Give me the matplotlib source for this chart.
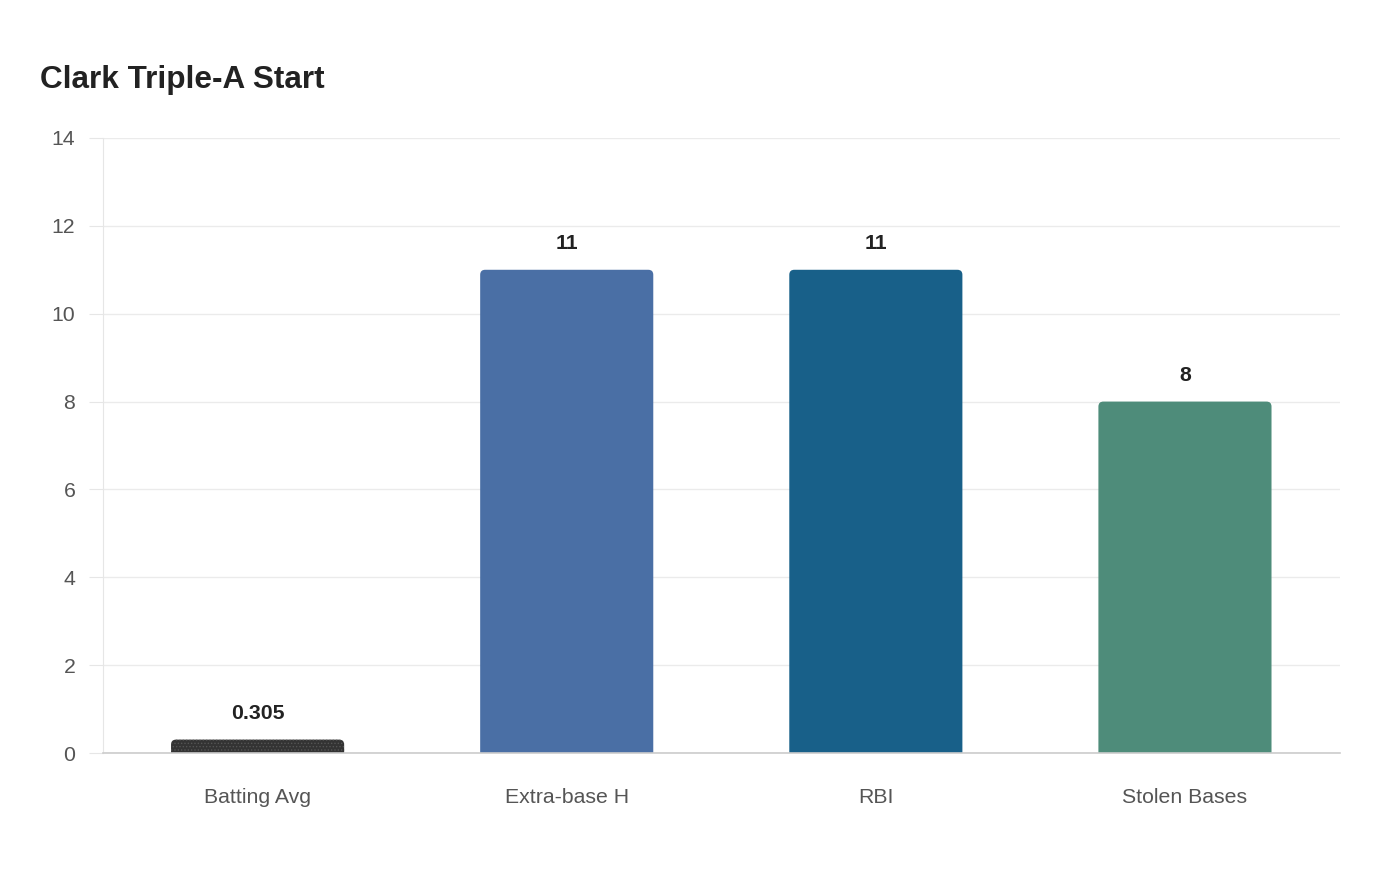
import matplotlib.pyplot as plt
from matplotlib.patches import FancyBboxPatch

plt.rcParams['font.family'] = ['Liberation Sans', 'DejaVu Sans']
plt.rcParams['hatch.linewidth'] = 0.6

categories = ['Batting Avg', 'Extra-base H', 'RBI', 'Stolen Bases']
values = [0.305, 11, 11, 8]
labels = ['0.305', '11', '11', '8']
colors = ['#333333', '#4a6fa5', '#186089', '#4e8c7a']

fig = plt.figure(figsize=(14, 8.8), dpi=100)
ax = fig.add_axes([0.0736, 0.1443, 0.8832, 0.6989])

ax.set_xlim(-0.5, 3.5)
ax.set_ylim(0, 14)

x = range(len(categories))
bars = ax.bar(x, values, width=0.56, color=colors, zorder=3)

# swap plain bars for ones with rounded corners (bottom hidden below axis)
px_x = ax.get_position().width * 1400 / 4.0
px_y = ax.get_position().height * 880 / 14.0
aspect = px_x / px_y
for i, b in enumerate(bars):
    b.set_visible(False)
    r = 5.0 / px_x
    p = FancyBboxPatch((b.get_x(), -0.3), b.get_width(), b.get_height() + 0.3,
                       boxstyle=f'round,pad=0,rounding_size={r}',
                       mutation_aspect=aspect, facecolor=colors[i],
                       edgecolor='none', zorder=3)
    if i == 0:
        p.set_hatch('.....')
        p.set_edgecolor('#555555')
        p.set_linewidth(0)
    ax.add_patch(p)

for xi, v, lab in zip(x, values, labels):
    ax.annotate(lab, (xi, v), xytext=(0, 12), textcoords='offset points',
                ha='center', va='bottom', fontsize=15.3, fontweight='bold', color='#222222')

ax.set_yticks(range(0, 15, 2))
ax.set_xticks(list(x))
ax.set_xticklabels(categories)
ax.grid(axis='y', color='#ebebeb', linewidth=1, zorder=0)
ax.tick_params(axis='y', length=10, color='#e6e6e6', labelcolor='#555555', labelsize=15.3, pad=10)
ax.tick_params(axis='x', length=0, labelcolor='#555555', labelsize=15.3, pad=25)

for s in ['top', 'right']:
    ax.spines[s].set_visible(False)
ax.spines['left'].set_color('#e6e6e6')
ax.spines['bottom'].set_color('#cccccc')
ax.spines['bottom'].set_linewidth(1.2)
ax.spines['bottom'].set_zorder(4)

fig.text(0.0286, 0.909, 'Clark Triple-A Start', fontsize=22.7, fontweight='bold',
         color='#222222', ha='left', va='center')

fig.savefig('out.png', dpi=100, facecolor='white')
